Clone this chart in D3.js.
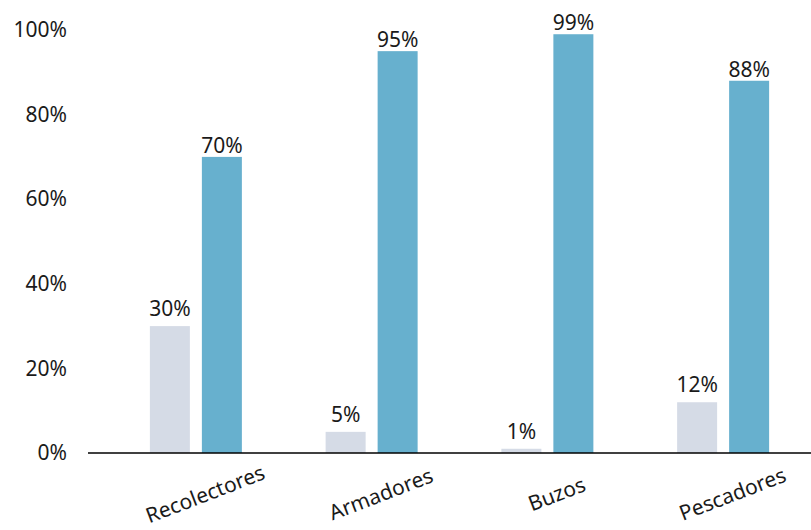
<!DOCTYPE html>
<html>
<head>
<meta charset="utf-8">
<script src="https://cdn.jsdelivr.net/npm/d3@7"></script>
<style>
  html, body { margin: 0; padding: 0; background: #fff; }
  svg { display: block; font-family: "Noto Sans", sans-serif; }
</style>
</head>
<body>
<svg id="chart" width="811" height="530"></svg>
<script>
// Category names along the x axis
const categories = ["Recolectores", "Armadores", "Buzos", "Pescadores"];
// Two series per category (percent)
const seriesA = [30, 5, 1, 12];
const seriesB = [70, 95, 99, 88];
// Y axis ticks
const yTicks = [0, 20, 40, 60, 80, 100];

const colorA = "#d5dbe6";
const colorB = "#67b0ce";
const textColor = "#1a1a1a";
const fontSize = 21;

const svg = d3.select("#chart");
const width = 811;
const axisLeftX = 88;
const baseY = 453;

const x = d3.scaleBand()
  .domain(categories)
  .range([108, width]);

const y = d3.scaleLinear()
  .domain([0, 100])
  .range([baseY, 30]);

const barW = 40, gap = 12;

// y tick labels (no axis line)
const yAxis = d3.axisLeft(y)
  .tickValues(yTicks)
  .tickFormat(d => d + "%")
  .tickSize(0)
  .tickPadding(0);
const gy = svg.append("g")
  .attr("transform", "translate(67,0)")
  .call(yAxis);
gy.select(".domain").remove();
gy.selectAll("text")
  .attr("font-size", fontSize)
  .attr("font-family", "Noto Sans, sans-serif")
  .attr("fill", textColor);

const rows = categories.map((c, i) => ({ c, a: seriesA[i], b: seriesB[i] }));

const groups = svg.append("g").selectAll("g")
  .data(rows)
  .join("g")
  .attr("transform", d => `translate(${x(d.c) + x.bandwidth() / 2},0)`);

// grey bars
groups.append("rect")
  .attr("x", -barW - gap / 2)
  .attr("width", barW)
  .attr("y", d => y(d.a))
  .attr("height", d => baseY - y(d.a))
  .attr("fill", colorA);

// blue bars
groups.append("rect")
  .attr("x", gap / 2)
  .attr("width", barW)
  .attr("y", d => y(d.b))
  .attr("height", d => baseY - y(d.b))
  .attr("fill", colorB);

// value labels
groups.append("text")
  .attr("x", -barW / 2 - gap / 2)
  .attr("y", d => y(d.a) - 10)
  .attr("text-anchor", "middle")
  .attr("font-size", fontSize)
  .attr("fill", textColor)
  .text(d => d.a + "%");

groups.append("text")
  .attr("x", barW / 2 + gap / 2)
  .attr("y", d => y(d.b) - 4)
  .attr("text-anchor", "middle")
  .attr("font-size", fontSize)
  .attr("fill", textColor)
  .text(d => d.b + "%");

// baseline
svg.append("line")
  .attr("x1", axisLeftX).attr("x2", width)
  .attr("y1", baseY).attr("y2", baseY)
  .attr("stroke", "#000")
  .attr("stroke-width", 1.5);

// rotated category labels
svg.append("g").selectAll("text")
  .data(categories)
  .join("text")
  .attr("text-anchor", "middle")
  .attr("font-size", fontSize)
  .attr("fill", textColor)
  .attr("transform", d => `translate(${x(d) + x.bandwidth() / 2 + 12},${baseY + 48}) rotate(-21)`)
  .text(d => d);
</script>
</body>
</html>
